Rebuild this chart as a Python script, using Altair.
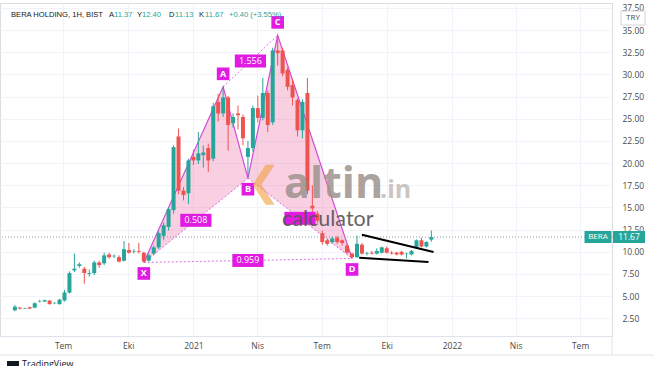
import altair as alt
import pandas as pd
import numpy as np

# ---------------- data (weekly candles) ----------------
start_date = "2020-04-24"
opens = [3.4, 3.7, 3.6, 3.75, 3.7, 4.4, 4.4, 4.5, 4.2, 4.1,
         4.5, 5.4, 7.9, 8.4, 8.1, 7.5, 7.6, 8.8, 8.7, 9.7,
         9.5, 9.4, 9.0, 10.2, 10.0, 10.1, 9.9, 9.0, 9.8, 10.5,
         11.8, 12.8, 14.7, 23.0, 16.9, 16.6, 20.7, 20.3, 20.9, 21.7,
         20.5, 26.9, 25.6, 27.4, 24.5, 25.6, 25.2, 20.7, 21.7, 26.2,
         25.1, 27.9, 24.6, 32.7, 32.7, 30.5, 28.8, 27.1, 23.7, 27.9,
         15.2, 14.3, 12.1, 11.3, 11.1, 11.6, 11.3, 10.7, 9.8, 9.4,
         10.8, 9.8, 9.9, 9.8, 9.9, 10.4, 9.9, 9.9, 10.0, 9.8,
         9.7, 10.5, 11.3, 10.6, 11.37]
highs = [4.0, 3.8, 3.7, 3.8, 4.3, 4.6, 4.6, 4.55, 4.3, 4.7,
         5.7, 7.8, 9.8, 8.8, 8.3, 8.0, 9.0, 9.0, 9.9, 9.9,
         9.7, 9.6, 11.2, 11.0, 10.3, 11.0, 10.0, 9.8, 10.7, 12.3,
         13.3, 15.0, 22.0, 23.9, 17.3, 20.5, 21.5, 23.5, 22.0, 22.2,
         26.8, 27.8, 28.6, 27.6, 25.6, 26.5, 25.5, 22.5, 26.5, 27.6,
         29.6, 28.2, 33.0, 34.4, 33.0, 30.8, 29.5, 27.3, 27.2, 29.6,
         17.5, 14.6, 12.4, 11.5, 11.7, 11.8, 11.4, 10.9, 9.9, 11.85,
         11.0, 10.0, 10.1, 10.4, 10.6, 10.6, 10.1, 10.0, 10.1, 9.9,
         10.2, 11.4, 11.6, 11.2, 12.40]
lows = [3.3, 3.5, 3.55, 3.55, 3.65, 4.3, 4.35, 4.05, 4.1, 4.05,
        4.4, 5.3, 7.7, 8.2, 6.4, 7.2, 7.4, 8.2, 8.5, 9.2,
        9.3, 8.8, 8.9, 9.8, 9.8, 9.8, 8.8, 8.9, 9.6, 10.3,
        11.3, 12.4, 14.3, 16.5, 15.8, 15.4, 19.8, 19.9, 19.5, 19.0,
        20.2, 24.7, 25.2, 21.4, 24.0, 23.8, 22.0, 18.4, 21.3, 24.6,
        24.8, 23.5, 24.3, 31.0, 29.8, 28.2, 26.5, 23.0, 22.8, 16.5,
        14.3, 13.2, 10.8, 10.7, 10.9, 10.9, 10.7, 9.8, 9.25, 9.3,
        9.7, 9.6, 9.7, 9.7, 9.8, 9.8, 9.7, 9.6, 9.6, 9.25,
        9.6, 10.4, 10.5, 10.5, 11.13]
closes = [3.8, 3.6, 3.65, 3.6, 4.2, 4.45, 4.55, 4.1, 4.25, 4.6,
          5.4, 7.6, 8.1, 8.6, 7.6, 7.6, 8.8, 8.5, 9.6, 9.4,
          9.55, 8.9, 10.3, 9.9, 10.05, 10.0, 8.9, 9.6, 10.5, 12.1,
          13.0, 14.8, 21.8, 16.9, 16.4, 20.3, 20.3, 21.1, 21.2, 20.3,
          26.4, 25.6, 27.4, 24.3, 25.2, 25.4, 22.8, 21.7, 26.2, 25.1,
          27.9, 24.3, 32.7, 32.4, 30.1, 28.6, 27.4, 23.7, 26.9, 16.9,
          14.9, 13.5, 11.1, 10.9, 11.5, 11.1, 11.0, 9.9, 9.4, 10.9,
          9.8, 9.85, 9.8, 10.1, 10.5, 9.9, 9.8, 9.7, 9.7, 9.85,
          10.1, 11.3, 10.6, 11.1, 11.67]

# harmonic pattern points (candle index, price)
pat_names = ["X", "A", "B", "C", "D"]
pat_index = [26, 42, 47, 53, 68]
pat_price = [8.8, 28.6, 18.3, 34.4, 9.25]
pat_label_side = ["below", "above", "below", "above", "below"]
ratio_pairs = [("X", "B", "0.508"), ("A", "C", "1.556"), ("X", "D", "0.959"), ("B", "D", "")]

# wedge (black trend lines): dates and prices
wedge_upper_dates = ["2021-08-27", "2021-12-06"]
wedge_upper_price = [11.93, 9.97]
wedge_lower_dates = ["2021-08-23", "2021-11-29"]
wedge_lower_price = [9.33, 8.84]

last_price = 11.67
y_ticks = [2.5 * k for k in range(1, 16)]
x_tick_months = [(2020, 7), (2020, 10), (2021, 1), (2021, 4), (2021, 7),
                 (2021, 10), (2022, 1), (2022, 4), (2022, 7)]

GREEN = "#26a69a"
RED = "#ef5350"
MAGENTA = "#e21be2"
PLINE = "#d24bd9"
FONT = "Open Sans"

# ---------------- tables ----------------
dates = pd.date_range(start_date, periods=len(opens), freq="7D")
df = pd.DataFrame({"date": dates.strftime("%Y-%m-%d"), "open": opens, "high": highs,
                   "low": lows, "close": closes})
df["dir"] = np.where(df["close"] >= df["open"], "up", "down")

P = pd.DataFrame({"name": pat_names, "date": df["date"].iloc[pat_index].values,
                  "price": pat_price, "side": pat_label_side, "order": range(5)})
P["t"] = pd.to_datetime(P["date"]).astype("int64")
Pi = P.set_index("name")


def tri(a, b, c, tag):
    ta, tb, tc = Pi.loc[a, "t"], Pi.loc[b, "t"], Pi.loc[c, "t"]
    pa, pb, pc = Pi.loc[a, "price"], Pi.loc[b, "price"], Pi.loc[c, "price"]
    low_b = pa + (pc - pa) * (tb - ta) / (tc - ta)
    return pd.DataFrame({"date": [Pi.loc[a, "date"], Pi.loc[b, "date"], Pi.loc[c, "date"]],
                         "up": [pa, pb, pc], "lo": [pa, low_b, pc], "tag": tag})


fill_df = pd.concat([tri("X", "A", "B", "t1"), tri("B", "C", "D", "t2")])

seg_rows = []
for a, b, txt in ratio_pairs:
    tm = (Pi.loc[a, "t"] + Pi.loc[b, "t"]) // 2
    seg_rows.append({"d1": Pi.loc[a, "date"], "p1": Pi.loc[a, "price"],
                     "d2": Pi.loc[b, "date"], "p2": Pi.loc[b, "price"],
                     "mid": pd.Timestamp(tm).strftime("%Y-%m-%dT%H:%M:%S"),
                     "pm": (Pi.loc[a, "price"] + Pi.loc[b, "price"]) / 2, "txt": txt})
seg_df = pd.DataFrame(seg_rows)

wedge_df = pd.DataFrame({"d1": [wedge_upper_dates[0], wedge_lower_dates[0]],
                         "d2": [wedge_upper_dates[1], wedge_lower_dates[1]],
                         "p1": [wedge_upper_price[0], wedge_lower_price[0]],
                         "p2": [wedge_upper_price[1], wedge_lower_price[1]]})

# ---------------- scales / axes ----------------
xscale = alt.Scale(type="utc", domain=[alt.DateTime(year=2020, month=4, date=10, utc=True),
                                       alt.DateTime(year=2022, month=8, date=8, utc=True)])
month_names = "['Oca','Şub','Mar','Nis','May','Haz','Tem','Ağu','Eyl','Eki','Kas','Ara']"
xaxis = alt.Axis(values=[alt.DateTime(year=y, month=m, date=1, utc=True) for y, m in x_tick_months],
                 labelExpr=f"utcmonth(datum.value)==0 ? utcFormat(datum.value,'%Y') : {month_names}[utcmonth(datum.value)]",
                 title=None, grid=True, gridColor="#f0f3fa", ticks=False, tickSize=0,
                 domain=True, domainColor="#e0e3eb", labelColor="#4a4a4a",
                 labelFontSize=8.5, labelFont=FONT, labelPadding=5)
yscale = alt.Scale(domain=[0.51, 38.05], nice=False, zero=False)
yaxis = alt.Axis(orient="right", values=y_ticks, format=".2f", title=None, grid=True,
                 gridColor="#f0f3fa", ticks=False, tickSize=0, domain=False,
                 labelColor="#4a4a4a", labelFontSize=8.5, labelFont=FONT, labelPadding=10)


def X(f):
    return alt.X(f, type="temporal", scale=xscale, axis=xaxis)


def Y(f):
    return alt.Y(f, type="quantitative", scale=yscale, axis=yaxis)


color = alt.Color("dir:N", scale=alt.Scale(domain=["up", "down"], range=[GREEN, RED]), legend=None)

# ---------------- layers ----------------
fill = alt.Chart(fill_df).mark_area(color="#ec5fa0", opacity=0.3).encode(
    x=X("date"), y=Y("up"), y2="lo", detail="tag:N")

dashed = alt.Chart(seg_df).mark_rule(color=PLINE, strokeDash=[2, 2], strokeWidth=1, opacity=0.8).encode(
    x=X("d1"), x2="d2", y=Y("p1"), y2="p2")

solid = alt.Chart(P).mark_line(color=PLINE, strokeWidth=1.2).encode(
    x=X("date"), y=Y("price"), order="order:Q")

wicks = alt.Chart(df).mark_rule(strokeWidth=1).encode(
    x=X("date"), y=Y("low"), y2="high", color=color)

bodies = alt.Chart(df).mark_bar(size=4).encode(
    x=X("date"), y=Y("open"), y2="close", color=color)

price_line = alt.Chart(pd.DataFrame({"p": [last_price]})).mark_rule(
    color="#9598a1", strokeDash=[1, 2], strokeWidth=1).encode(y=Y("p"))

wedge = alt.Chart(wedge_df).mark_rule(color="black", strokeWidth=2).encode(
    x=X("d1"), x2="d2", y=Y("p1"), y2="p2")

box_path = "M-2.4,-1L2.4,-1L2.4,1L-2.4,1Z"
ratio_box = alt.Chart(seg_df).mark_point(shape=box_path, size=169, filled=True,
                                         color=MAGENTA, opacity=1).encode(
    x=X("mid"), y=Y("pm"))
ratio_txt = alt.Chart(seg_df).mark_text(color="white", font=FONT, fontSize=9).encode(
    x=X("mid"), y=Y("pm"), text="txt:N")

above = P[P["side"] == "above"]
below = P[P["side"] == "below"]
lab_layers = []
for sub, off in [(above, -13), (below, 11)]:
    lab_layers.append(alt.Chart(sub).mark_point(shape="square", size=160, filled=True,
                                                color=MAGENTA, opacity=1, yOffset=off).encode(
        x=X("date"), y=Y("price")))
    lab_layers.append(alt.Chart(sub).mark_text(color="white", font=FONT, fontSize=9,
                                               fontWeight="bold", dy=off).encode(
        x=X("date"), y=Y("price"), text="name:N"))

# right-hand price tag
tag_df = pd.DataFrame({"p": [last_price], "name": ["BERA"], "val": [f"{last_price:.2f}"]})
tag1 = alt.Chart(tag_df).mark_point(shape="M-1.125,-0.5L1.125,-0.5L1.125,0.5L-1.125,0.5Z",
                                    size=576, filled=True, color=GREEN, opacity=1).encode(
    x=alt.value(598), y=Y("p"))
tag1t = alt.Chart(tag_df).mark_text(color="white", font=FONT, fontSize=8).encode(
    x=alt.value(598), y=Y("p"), text="name:N")
tag2 = alt.Chart(tag_df).mark_point(shape="M-1.333,-0.5L1.333,-0.5L1.333,0.5L-1.333,0.5Z",
                                    size=576, filled=True, color=GREEN, opacity=1).encode(
    x=alt.value(629), y=Y("p"))
tag2t = alt.Chart(tag_df).mark_text(color="white", font=FONT, fontSize=8.5).encode(
    x=alt.value(629), y=Y("p"), text="val:N")

# TRY box on the price scale
try_box = alt.Chart(pd.DataFrame({"a": [0]})).mark_rect(fill="white", stroke="#d1d4dc", strokeWidth=1).encode(
    x=alt.value(621), x2=alt.value(645), y=alt.value(8), y2=alt.value(22))
try_txt = alt.Chart(pd.DataFrame({"a": ["TRY"]})).mark_text(color="#4a4a4a", font=FONT, fontSize=8).encode(
    x=alt.value(633), y=alt.value(15), text="a:N")

# header legend
HF = "Liberation Sans"
header_items = [("BERA HOLDING, 1H, BIST", 11, "#131722"), ("A", 109, "#131722"), ("11.37", 114, GREEN),
                ("Y", 137, "#131722"), ("12.40", 142, GREEN), ("D", 169, "#131722"),
                ("11.13", 175, GREEN), ("K", 199, "#131722"), ("11.67", 205, GREEN),
                ("+0.40 (+3.55%)", 229, GREEN)]
header_layers = [alt.Chart(pd.DataFrame({"s": [s]})).mark_text(
    align="left", baseline="middle", color=c, font=HF, fontSize=7.6).encode(
    x=alt.value(xx), y=alt.value(12), text="s:N") for s, xx, c in header_items]

# watermark
wm = [
    alt.Chart(pd.DataFrame({"s": ["altin"]})).mark_text(
        align="left", baseline="alphabetic", font=FONT, fontWeight="bold", fontSize=43,
        color="#9e928e", opacity=0.85).encode(x=alt.value(284), y=alt.value(195), text="s:N"),
    alt.Chart(pd.DataFrame({"s": [".in"]})).mark_text(
        align="left", baseline="alphabetic", font=FONT, fontWeight="bold", fontSize=25,
        color="#c4bcba", opacity=0.85).encode(x=alt.value(380), y=alt.value(195), text="s:N"),
    alt.Chart(pd.DataFrame({"s": ["calculator"]})).mark_text(
        align="left", baseline="alphabetic", font="Lato", fontSize=21.5,
        color="#555555", opacity=0.9).encode(x=alt.value(282), y=alt.value(223), text="s:N"),
    alt.Chart(pd.DataFrame({"s": ["❮"]})).mark_text(
        align="center", baseline="middle", font="DejaVu Sans", fontWeight="bold", fontSize=40,
        color="#f0a040", opacity=0.6).encode(x=alt.value(264), y=alt.value(180), text="s:N"),
]

# frame lines and footer
frame = [
    alt.Chart(pd.DataFrame({"a": [0]})).mark_rule(color="#e0e3eb").encode(
        x=alt.value(0), x2=alt.value(654), y=alt.value(352)),
    alt.Chart(pd.DataFrame({"a": [0]})).mark_rule(color="#e0e3eb").encode(
        x=alt.value(612), y=alt.value(333), y2=alt.value(352)),
    alt.Chart(pd.DataFrame({"a": [0]})).mark_rect(color="#131722").encode(
        x=alt.value(7), x2=alt.value(19), y=alt.value(358), y2=alt.value(366)),
    alt.Chart(pd.DataFrame({"s": ["TradingView"]})).mark_text(
        align="left", baseline="top", font=FONT, fontSize=9, color="#131722").encode(
        x=alt.value(22), y=alt.value(357), text="s:N"),
]

chart = alt.layer(
    fill, dashed, solid, price_line, wicks, bodies, wedge,
    ratio_box, ratio_txt, *lab_layers, *wm, tag1, tag1t, tag2, tag2t,
    try_box, try_txt, *header_layers, *frame
).properties(
    width=612, height=333,
    autosize=alt.AutoSizeParams(type="none"),
    padding={"left": 0, "top": 3, "right": 42, "bottom": 30},
).configure_view(stroke="#e0e3eb", strokeWidth=1).configure(background="white")

chart.save("out.html", embed_options={"renderer": "svg", "actions": False})
